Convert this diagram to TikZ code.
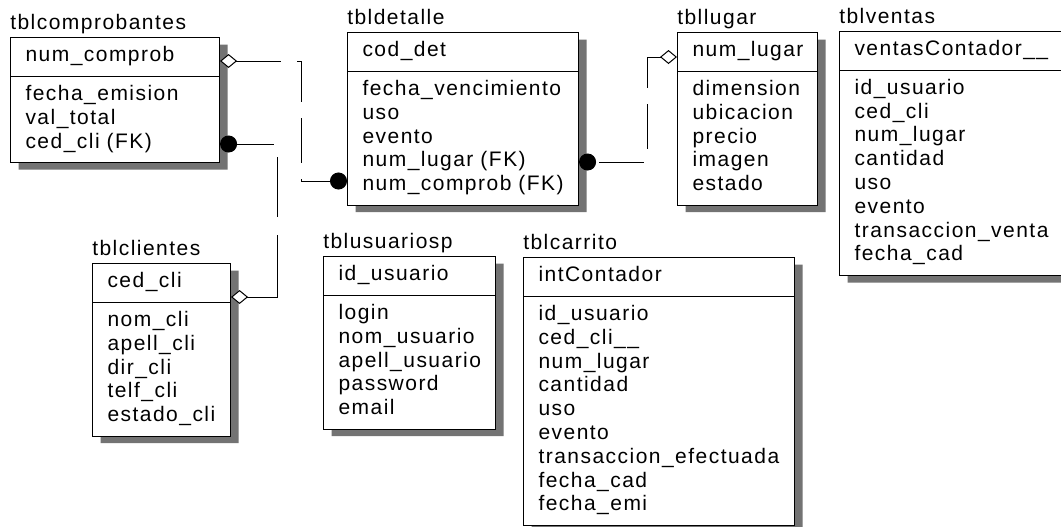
\documentclass[tikz,border=0pt]{standalone}
\usepackage{fontspec}
\newfontfamily\erfont{Liberation Sans}[LetterSpace=7]
\usetikzlibrary{arrows.meta,shapes.multipart,shadows}

\begin{document}
\begin{tikzpicture}[x=0.75pt,y=-0.75pt,
  tbl/.style={rectangle split,rectangle split parts=2,draw,fill=white,line width=0.8pt,align=left,anchor=north west,inner xsep=11.25pt,inner ysep=5.2pt,font=\erfont\fontsize{15.75pt}{17.85pt}\selectfont,drop shadow={shadow xshift=6pt,shadow yshift=-5.25pt,fill=black!55,opacity=1}},
  ttl/.style={anchor=base west,inner sep=0pt,yshift=5.6pt,font=\erfont\fontsize{15.75pt}{17.85pt}\selectfont},
  rel/.style={line width=0.75pt,dash pattern=on 33.75pt off 12pt},
  dia/.style={{Diamond[fill=white,length=12.75pt,width=10.5pt]}-{Circle[length=12.75pt]}}
]
\useasboundingbox (0,0) rectangle (1061,526);
\fill[white] (0,0) rectangle (1061,526);
\clip (0,0) rectangle (1061,526);

\node[tbl,text width=134.25pt,label={[ttl]north west:tblcomprobantes}] (comp) at (10,37)
  {\strut num\_comprob\nodepart{two}\strut fecha\_emision\\\strut val\_total\\\strut ced\_cli (FK)};
\node[tbl,text width=150.75pt,label={[ttl]north west:tbldetalle}] (det) at (347,32)
  {\strut cod\_det\nodepart{two}\strut fecha\_vencimiento\\\strut uso\\\strut evento\\\strut num\_lugar (FK)\\\strut num\_comprob (FK)};
\node[tbl,text width=82.5pt,label={[ttl]north west:tbllugar}] (lug) at (677,32)
  {\strut num\_lugar\nodepart{two}\strut dimension\\\strut ubicacion\\\strut precio\\\strut imagen\\\strut estado};
\node[tbl,text width=151.5pt,label={[ttl]north west:tblventas}] (ven) at (839,31)
  {\strut ventasContador\_\_\nodepart{two}\strut id\_usuario\\\strut ced\_cli\\\strut num\_lugar\\\strut cantidad\\\strut uso\\\strut evento\\\strut transaccion\_venta\\\strut fecha\_cad};
\node[tbl,text width=81pt,label={[ttl]north west:tblclientes}] (cli) at (92,263)
  {\strut ced\_cli\nodepart{two}\strut nom\_cli\\\strut apell\_cli\\\strut dir\_cli\\\strut telf\_cli\\\strut estado\_cli};
\node[tbl,text width=106.5pt,label={[ttl]north west:tblusuariosp}] (usu) at (323,256)
  {\strut id\_usuario\nodepart{two}\strut login\\\strut nom\_usuario\\\strut apell\_usuario\\\strut password\\\strut email};
\node[tbl,text width=180.75pt,label={[ttl]north west:tblcarrito}] (car) at (523,257)
  {\strut intContador\nodepart{two}\strut id\_usuario\\\strut ced\_cli\_\_\\\strut num\_lugar\\\strut cantidad\\\strut uso\\\strut evento\\\strut transaccion\_efectuada\\\strut fecha\_cad\\\strut fecha\_emi};

\draw[rel,dia] ([yshift=-18pt]comp.north east) -- ++(81,0) |- ([yshift=-111.75pt]det.north west);
\draw[rel,dia,dash pattern=on 69pt off 13.5pt on 45pt off 12pt] ([yshift=-25.5pt]cli.north east) -- ++(46,0) |- ([yshift=-80.25pt]comp.north east);
\draw[rel,dia] ([yshift=-18.75pt]lug.north west) -- ++(-30,0) |- ([yshift=-97.5pt]det.north east);
\end{tikzpicture}
\end{document}
